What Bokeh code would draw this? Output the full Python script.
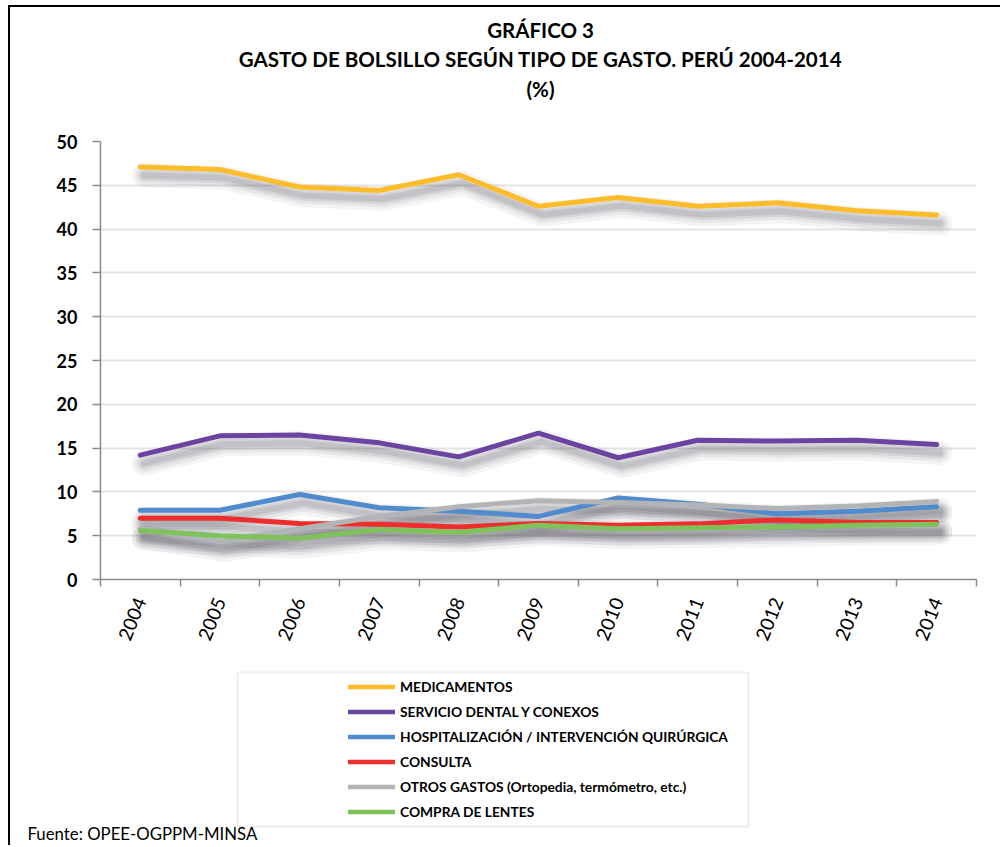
import math
from bokeh.plotting import figure
from bokeh.layouts import column
from bokeh.models import (ColumnDataSource, Range1d, FixedTicker, Legend, LegendItem,
                          Label, BoxAnnotation)
from bokeh.transform import dodge
from bokeh.embed import file_html
from bokeh.resources import INLINE

years = ["2004", "2005", "2006", "2007", "2008", "2009", "2010", "2011", "2012", "2013", "2014"]
medicamentos = [47.1, 46.8, 44.8, 44.4, 46.2, 42.6, 43.6, 42.6, 43.0, 42.1, 41.6]
dental = [14.2, 16.4, 16.5, 15.6, 14.0, 16.7, 13.9, 15.9, 15.8, 15.9, 15.4]
hospitalizacion = [7.9, 7.9, 9.7, 8.2, 7.8, 7.2, 9.3, 8.6, 7.5, 7.8, 8.3]
consulta = [7.0, 7.0, 6.4, 6.3, 6.0, 6.4, 6.2, 6.35, 6.8, 6.5, 6.5]
otros = [5.8, 4.3, 5.8, 7.2, 8.3, 9.0, 8.8, 8.5, 8.1, 8.4, 8.9]
lentes = [5.6, 5.0, 4.7, 5.7, 5.4, 6.2, 5.8, 5.9, 6.0, 6.2, 6.3]

series_labels = ["MEDICAMENTOS", "SERVICIO DENTAL Y CONEXOS",
                 "HOSPITALIZACIÓN / INTERVENCIÓN QUIRÚRGICA", "CONSULTA",
                 "OTROS GASTOS (Ortopedia, termómetro, etc.)", "COMPRA DE LENTES"]
series_values = [medicamentos, dental, hospitalizacion, consulta, otros, lentes]
series_colors = ["#FDBD2B", "#6A44A0", "#4F8BCD", "#EE2D2D", "#B2B5B5", "#7FC25C"]

y_ticks = [0, 5, 10, 15, 20, 25, 30, 35, 40, 45, 50]
title_lines = ["GRÁFICO 3", "GASTO DE BOLSILLO SEGÚN TIPO DE GASTO. PERÚ 2004-2014", "(%)"]
source_note = "Fuente: OPEE-OGPPM-MINSA"

W = 990

src = ColumnDataSource(dict(x=list(range(len(years)))))
cols = []
for i, vals in enumerate(series_values):
    c = "s%d" % i
    src.data[c] = vals
    cols.append(c)

# ---------------- titles ----------------
H0 = 114
p0 = figure(width=W, height=H0, output_backend="svg", toolbar_location=None,
            x_range=Range1d(0, W), y_range=Range1d(H0, 0),
            x_axis_type=None, y_axis_type=None, min_border=0)
p0.frame_align = False
p0.outline_line_color = None
p0.grid.visible = False
for i, t in enumerate(title_lines):
    p0.add_layout(Label(x=530, y=22 + 29.5 * i, text=t, text_align="center",
                        text_baseline="middle", text_font="Lato", text_font_style="bold",
                        text_font_size="20.5px", text_color="#000000"))

# ---------------- chart ----------------
p = figure(width=W, height=539, output_backend="svg", toolbar_location=None,
           x_range=Range1d(-0.5, len(years) - 0.5), y_range=Range1d(0, 50),
           min_border_left=90, min_border_right=24, min_border_top=20,
           min_border_bottom=81)
p.frame_align = False
p.outline_line_color = None
p.background_fill_color = "white"
p.border_fill_color = "white"

# soft drop shadows
for c in cols:
    for w, a in [(24, 0.06), (17, 0.08), (11, 0.11), (6, 0.13)]:
        p.line(x=dodge("x", 0.045), y=dodge(c, -0.95), source=src, line_width=w,
               line_alpha=a, line_color="#4a4a55", line_join="round", line_cap="round")

for c, col in zip(cols, series_colors):
    p.line(x="x", y=c, source=src, line_width=5, line_color=col,
           line_join="round", line_cap="round")

xa = p.xaxis[0]
xa.ticker = FixedTicker(ticks=list(range(len(years))),
                        minor_ticks=[i - 0.5 for i in range(len(years) + 1)])
xa.major_label_overrides = {i: y for i, y in enumerate(years)}
xa.major_tick_line_color = None
xa.major_tick_out = 0
xa.major_tick_in = 0
xa.minor_tick_out = 7
xa.minor_tick_in = 0
xa.minor_tick_line_color = "#8a8a8a"
xa.minor_tick_line_width = 1.5
xa.axis_line_color = "#8a8a8a"
xa.axis_line_width = 1.5
xa.major_label_orientation = math.radians(68)
xa.major_label_standoff = 12
xa.major_label_text_font = "Lato"
xa.major_label_text_font_size = "19px"
xa.major_label_text_color = "#000000"

ya = p.yaxis[0]
ya.ticker = FixedTicker(ticks=y_ticks)
ya.major_tick_out = 8
ya.major_tick_in = 0
ya.minor_tick_line_color = None
ya.major_tick_line_color = "#8a8a8a"
ya.major_tick_line_width = 1.5
ya.axis_line_color = "#8a8a8a"
ya.axis_line_width = 1.5
ya.major_label_standoff = 15
ya.major_label_text_font = "Lato"
ya.major_label_text_font_style = "bold"
ya.major_label_text_font_size = "18px"
ya.major_label_text_color = "#000000"

p.xgrid.grid_line_color = None
p.ygrid.ticker = FixedTicker(ticks=y_ticks)
p.ygrid.grid_line_color = "#e4e4e4"
p.ygrid.grid_line_width = 2

# ---------------- legend + source ----------------
H2 = 185
p2 = figure(width=W, height=H2, output_backend="svg", toolbar_location=None,
            x_range=Range1d(0, W), y_range=Range1d(0, H2),
            x_axis_type=None, y_axis_type=None, min_border=0)
p2.frame_align = False
p2.outline_line_color = None
p2.grid.visible = False

# hidden copies of the series, only used to draw the legend glyphs
legend_renderers = []
for c, col in zip(cols, series_colors):
    r = p2.line(x="x", y=c, source=src, line_width=4.5, line_color=col, line_cap="round")
    r.visible = False
    legend_renderers.append(r)

legend = Legend(items=[LegendItem(label=l, renderers=[r])
                       for l, r in zip(series_labels, legend_renderers)],
                location=(338, 23), orientation="vertical", padding=0, margin=0,
                spacing=4, label_height=21, glyph_height=21, glyph_width=47,
                label_standoff=5, label_text_font="Lato", label_text_font_style="bold",
                label_text_font_size="13.8px", label_text_color="#000000",
                border_line_color=None, background_fill_alpha=0,
                inactive_fill_alpha=0)
p2.add_layout(legend, "center")

p2.add_layout(BoxAnnotation(left=227, right=738, top=173, bottom=19,
                            fill_alpha=0, line_color="#c8c8c8", line_width=2))
p2.add_layout(Label(x=17, y=12, text=source_note, text_baseline="middle",
                    text_font="Lato", text_font_size="16.8px", text_color="#000000"))

layout = column(p0, p, p2, spacing=0,
                styles={"margin-left": "8px", "margin-top": "5px",
                        "border-left": "2px solid #000000",
                        "border-top": "2px solid #000000"})

open("out.html", "w").write(file_html(layout, INLINE))
